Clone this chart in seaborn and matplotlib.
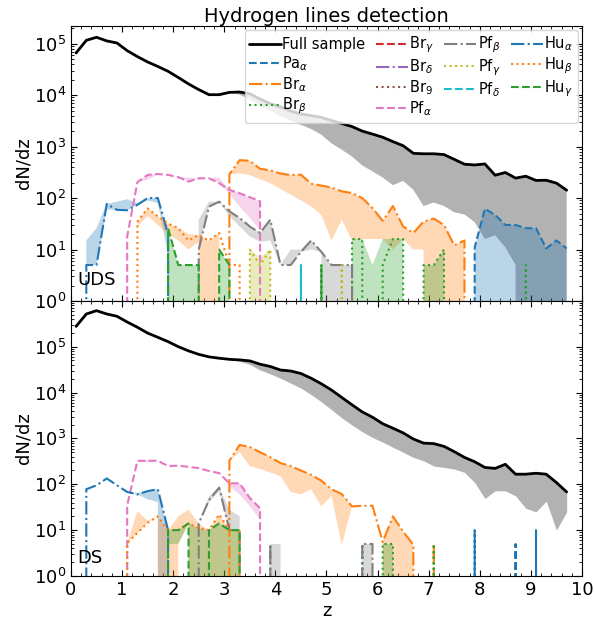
import matplotlib
matplotlib.use("Agg")
import matplotlib.pyplot as plt
from matplotlib.ticker import MultipleLocator
import seaborn as sns

# redshift bin centres
z_bins = [0.1, 0.3, 0.5, 0.7, 0.9, 1.1, 1.3, 1.5, 1.7, 1.9,
          2.1, 2.3, 2.5, 2.7, 2.9, 3.1, 3.3, 3.5, 3.7, 3.9,
          4.1, 4.3, 4.5, 4.7, 4.9, 5.1, 5.3, 5.5, 5.7, 5.9,
          6.1, 6.3, 6.5, 6.7, 6.9, 7.1, 7.3, 7.5, 7.7, 7.9,
          8.1, 8.3, 8.5, 8.7, 8.9, 9.1, 9.3, 9.5, 9.7]

# full sample dN/dz (nominal and lower estimate)
uds_full = [66000, 116000, 133000, 113000, 103000, 73000, 56000, 44000, 36000, 29000,
            22000, 16500, 12800, 10200, 10200, 11300, 11500, 10600, 8400, 6800,
            5900, 4900, 4300, 4000, 3700, 3200, 2800, 2450, 2000, 1750,
            1520, 1250, 1040, 740, 725, 725, 700, 565, 455, 440,
            460, 278, 314, 244, 266, 220, 222, 195, 142]
uds_full_lo = [66000, 116000, 133000, 113000, 103000, 73000, 56000, 44000, 36000, 29000,
               22000, 16500, 12800, 10200, 10200, 11300, 10200, 8200, 6400, 5000,
               3900, 3200, 2650, 2200, 1700, 1150, 870, 640, 430, 330,
               250, 178, 215, 145, 70, 82, 70, 53, 48, 34,
               16, 19, 11, 5, 0, 0, 0, 0, 0]
ds_full = [277000, 516000, 610000, 516000, 460000, 345000, 265000, 198000, 160000, 129000,
           100000, 81000, 68000, 60000, 56000, 53000, 51500, 49000, 41500, 37000,
           31000, 29500, 26000, 20500, 15500, 11300, 7800, 5400, 3780, 2900,
           2090, 1670, 1320, 970, 790, 770, 670, 515, 386, 310,
           233, 222, 273, 166, 166, 174, 166, 109, 68]
ds_full_lo = [277000, 516000, 610000, 516000, 460000, 345000, 265000, 198000, 160000, 129000,
              100000, 81000, 68000, 60000, 56000, 53000, 48000, 41000, 31000, 25500,
              20500, 16000, 12500, 9000, 6300, 4200, 2800, 1950, 1400, 1050,
              830, 640, 500, 386, 325, 250, 233, 215, 182, 109,
              49, 72, 72, 56, 30, 25, 43, 10, 25]

# single lines: (first bin, nominal, lower, upper); upper None = nominal
uds_pa_a = (7.7, [0, 11, 62, 47, 30, 30, 26, 26, 10.5, 15, 10.5],
            [0, 0, 0, 0, 0, 0, 0, 0, 0, 0, 0], None)
uds_br_a = (2.9, [0, 290, 545, 530, 370, 345, 300, 280, 285, 190, 175, 160, 135,
                  125, 100, 64, 36, 70, 28, 21, 35, 40, 30, 12, 15, 0],
            [0, 290, 300, 280, 230, 195, 150, 116, 90, 69, 47, 15, 38,
             15, 16, 16, 16, 10, 16, 10, 10, 0, 0, 0, 0, 0], None)
uds_br_b = (5.3, [0, 16, 16, 0, 5, 16, 16, 0, 5, 5, 10, 0, 0, 0, 0, 0, 0, 0, 5, 0],
            [0, 0, 0, 0, 0, 0, 0, 0, 0, 0, 0, 0, 0, 0, 0, 0, 0, 0, 0, 0],
            [0, 16, 16, 5, 16, 16, 16, 0, 5, 5, 10, 0, 0, 0, 0, 0, 0, 0, 0, 0])
uds_pf_a = (0.9, [0, 18, 204, 282, 293, 282, 255, 209, 242, 242, 195, 144, 124, 104, 87, 0],
            [0, 18, 204, 225, 293, 282, 255, 209, 242, 242, 195, 120, 68, 41, 24, 0],
            [0, 18, 204, 282, 293, 282, 255, 250, 242, 244, 250, 144, 124, 104, 87, 0])
uds_pf_b = (2.3, [0, 10, 68, 85, 55, 41, 28, 21, 38, 5, 5, 9, 15, 9, 5, 5, 5, 0],
            [0, 10, 68, 85, 45, 28, 18, 14, 15, 5, 5, 9, 10, 9, 0, 0, 5, 0],
            [0, 38, 85, 85, 55, 41, 28, 21, 38, 5, 10, 10, 15, 9, 5, 5, 5, 0])
uds_pf_g = (3.3, [0, 10, 5, 10, 0, 0, 0, 0, 0, 0, 5, 0],
            [0, 0, 0, 0, 0, 0, 0, 0, 0, 0, 0, 0],
            [0, 10, 7, 10, 0, 0, 0, 0, 0, 0, 0, 0])
uds_pf_d = (4.3, [0, 5, 0], [0, 0, 0], [0, 0, 0])
uds_hu_a = (0.1, [0, 5, 5, 77, 59, 58, 74, 100, 100, 20, 0],
            [0, 5, 5, 60, 59, 58, 74, 90, 80, 8, 0],
            [0, 15, 26, 77, 85, 95, 80, 100, 100, 20, 0])
uds_hu_b = (1.1, [0, 35, 63, 44, 32, 26, 15, 19, 15, 21, 5, 5, 0],
            [0, 28, 45, 30, 20, 15, 10, 14, 0, 21, 5, 5, 0],
            [0, 35, 63, 44, 32, 26, 20, 19, 15, 21, 5, 5, 0])
uds_hu_g = (1.7, [0, 26, 5, 5, 5, 0, 10, 5, 0, 0, 0, 0, 0, 0, 0, 0, 5, 0],
            [0, 0, 0, 0, 0, 0, 0, 0, 0, 0, 0, 0, 0, 0, 0, 0, 0, 0],
            [0, 26, 5, 5, 5, 0, 10, 5, 0, 0, 0, 0, 0, 0, 0, 0, 0, 0])

ds_pa_a = (7.7, [0, 10, 0, 0, 0, 5, 0, 10, 0],
           [0, 0, 0, 0, 0, 0, 0, 0, 0],
           [0, 10, 0, 5, 0, 0, 0, 10, 0])
ds_br_a = (2.9, [0, 325, 720, 650, 500, 390, 290, 250, 200, 160, 120, 78,
                 61, 33, 34, 34, 5.5, 20, 9.3, 4.8, 0, 5, 0],
           [0, 325, 500, 250, 215, 180, 150, 68, 60, 78, 33, 55,
            4.8, 33, 34, 34, 5.5, 0, 0, 0, 0, 0, 0], None)
ds_br_b = (5.5, [0, 5, 0, 5, 5, 0, 0, 0, 5, 0],
           [0, 0, 0, 0, 0, 0, 0, 0, 0, 0],
           [0, 0, 0, 5, 5, 0, 0, 0, 0, 0])
ds_pf_a = (0.9, [0, 35, 325, 325, 325, 250, 255, 240, 225, 195, 175, 105, 105, 50, 30, 0],
           [0, 35, 325, 300, 325, 250, 255, 240, 225, 195, 175, 90, 60, 33, 17, 0],
           [0, 35, 325, 340, 325, 250, 255, 240, 225, 195, 175, 105, 105, 50, 30, 0])
ds_pf_b = (2.3, [0, 14, 45, 85, 10, 10, 0, 0, 5, 0, 0, 0, 0, 0, 0, 0, 0, 5, 5, 0],
           [0, 14, 40, 70, 10, 10, 0, 0, 0, 0, 0, 0, 0, 0, 0, 0, 0, 0, 0, 0],
           [0, 14, 55, 85, 28, 20, 0, 0, 5, 5, 0, 5, 0, 0, 0, 5, 0, 5, 5, 0])
ds_hu_a = (0.1, [0, 78, 95, 134, 95, 68, 60, 71, 78, 10, 0],
           [0, 78, 95, 134, 95, 68, 60, 47, 41, 0, 0],
           [0, 78, 95, 134, 95, 68, 65, 71, 78, 10, 0])
ds_hu_b = (0.9, [0, 5.2, 8.7, 14.5, 20, 10, 10, 14, 11, 10, 22, 10, 10, 0],
           [0, 5.2, 8.7, 14.5, 20, 0, 5, 14, 0, 0, 0, 0, 0, 0],
           [0, 5.2, 26, 16, 20, 10, 20, 28, 14, 10, 22, 10, 10, 0])
ds_hu_g = (1.7, [0, 10, 10, 14, 0, 10, 14, 10, 10, 0],
           [0, 5, 5, 14, 0, 0, 0, 0, 0, 0],
           [0, 10, 10, 14, 11, 10, 14, 10, 10, 0])

line_labels = [r'Pa$_\alpha$', r'Br$_\alpha$', r'Br$_\beta$', r'Br$_\gamma$', r'Br$_\delta$',
               r'Br$_9$', r'Pf$_\alpha$', r'Pf$_\beta$', r'Pf$_\gamma$', r'Pf$_\delta$',
               r'Hu$_\alpha$', r'Hu$_\beta$', r'Hu$_\gamma$']

uds_lines = {r'Pa$_\alpha$': uds_pa_a, r'Br$_\alpha$': uds_br_a, r'Br$_\beta$': uds_br_b,
             r'Pf$_\alpha$': uds_pf_a, r'Pf$_\beta$': uds_pf_b, r'Pf$_\gamma$': uds_pf_g,
             r'Pf$_\delta$': uds_pf_d, r'Hu$_\alpha$': uds_hu_a, r'Hu$_\beta$': uds_hu_b,
             r'Hu$_\gamma$': uds_hu_g}
ds_lines = {r'Pa$_\alpha$': ds_pa_a, r'Br$_\alpha$': ds_br_a, r'Br$_\beta$': ds_br_b,
            r'Pf$_\alpha$': ds_pf_a, r'Pf$_\beta$': ds_pf_b, r'Hu$_\alpha$': ds_hu_a,
            r'Hu$_\beta$': ds_hu_b, r'Hu$_\gamma$': ds_hu_g}

sns.set_style("ticks", rc={
    "axes.edgecolor": "black", "text.color": "black", "axes.labelcolor": "black",
    "xtick.color": "black", "ytick.color": "black",
    "xtick.direction": "in", "ytick.direction": "in",
})
plt.rcParams['font.family'] = ['DejaVu Sans']

palette = sns.color_palette("tab10")
linestyles = ['--', '-.', ':']


def draw_panel(ax, full, full_lo, lines, tag, tag_y):
    sns.lineplot(x=z_bins, y=full, ax=ax, color='k', lw=2, errorbar=None,
                 label='Full sample')
    ax.fill_between(z_bins, full_lo, full, color='k', alpha=0.3, lw=0)
    for i, name in enumerate(line_labels):
        color = palette[i % 10]
        ls = linestyles[i % 3]
        entry = lines.get(name)
        if entry is None:
            ax.plot([], [], color=color, ls=ls, lw=1.5, label=name)
            continue
        start, val, lo, hi = entry
        k0 = z_bins.index(start)
        z = z_bins[k0:k0 + len(val)]
        ax.plot(z, val, color=color, ls=ls, lw=1.5, label=name)
        ax.fill_between(z, lo, hi if hi is not None else val,
                        color=color, alpha=0.3, lw=0)
    ax.set_yscale('log')
    ax.set_xlim(0, 10)
    ax.set_ylabel('dN/dz', fontsize=13, labelpad=1)
    ax.text(0.012, tag_y, tag, transform=ax.transAxes, fontsize=13)
    ax.tick_params(which='both', direction='in', top=True, right=True, labelsize=13)
    ax.tick_params(which='major', length=4.5, width=0.8)
    ax.tick_params(which='minor', length=2.5, width=0.6)
    ax.xaxis.set_major_locator(MultipleLocator(1))
    ax.xaxis.set_minor_locator(MultipleLocator(0.2))
    if ax.get_legend() is not None:
        ax.get_legend().remove()


fig, (ax1, ax2) = plt.subplots(2, 1, sharex=True, figsize=(5.94, 6.24), dpi=100,
                               gridspec_kw=dict(hspace=0))
fig.subplots_adjust(left=0.1195, right=0.9798, top=0.9583, bottom=0.0769)

draw_panel(ax1, uds_full, uds_full_lo, uds_lines, 'UDS', 0.058)
draw_panel(ax2, ds_full, ds_full_lo, ds_lines, 'DS', 0.046)

ax1.set_ylim(1, 2.2e5)
ax2.set_ylim(1, 9.9e5)
ax2.set_xlabel('z', fontsize=13, labelpad=2)
ax1.set_title('Hydrogen lines detection', fontsize=14, pad=3)

handles, labels = ax1.get_legend_handles_labels()
leg = ax1.legend(handles, labels, ncol=4, loc='upper right', fontsize=10.5,
                 borderaxespad=0.3, handlelength=2.2, handletextpad=0.1,
                 columnspacing=0.7, labelspacing=0.15, borderpad=0.3,
                 frameon=True, fancybox=True, framealpha=0.8, edgecolor='0.8')

fig.savefig('out.png', dpi=100)
